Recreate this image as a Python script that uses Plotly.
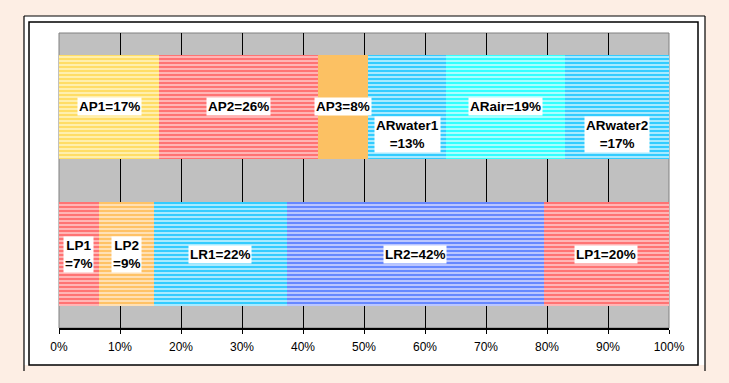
import plotly.graph_objects as go

# ---------------- data ----------------
rows = ["A", "L"]  # top bar, bottom bar
top_names = ["AP1", "AP2", "AP3", "ARwater1", "ARair", "ARwater2"]
top_values = [16.4, 26.0, 8.2, 12.9, 19.4, 17.1]
top_labels = ["AP1=17%", "AP2=26%", "AP3=8%", "ARwater1<br>=13%", "ARair=19%", "ARwater2<br>=17%"]

bottom_names = ["LP1", "LP2", "LR1", "LR2", "LP1 (2)"]
bottom_values = [6.5, 9.0, 21.8, 42.2, 20.5]
bottom_labels = ["LP1<br>=7%", "LP2<br>=9%", "LR1=22%", "LR2=42%", "LP1=20%"]

tick_values = [0, 10, 20, 30, 40, 50, 60, 70, 80, 90, 100]
tick_labels = ["0%", "10%", "20%", "30%", "40%", "50%", "60%", "70%", "80%", "90%", "100%"]

# ---------------- styles ----------------
palette = {
    "yellow": ("#ffdd66", "#fff1b5"),
    "red": ("#ff7373", "#ffbcbc"),
    "orange_solid": ("#fcc163", None),
    "sky": ("#33ccff", "#b5eeff"),
    "cyan": ("#33ffff", "#b5ffff"),
    "orange": ("#ffc266", "#ffe4bd"),
    "blue": ("#6688ff", "#c3cdff"),
}
top_styles = ["yellow", "red", "orange_solid", "sky", "cyan", "sky"]
bottom_styles = ["red", "orange", "sky", "blue", "red"]
top_yshift = [0, 0, 0, -28, 0, -28]
bottom_yshift = [0, 0, 0, 0, 0]

W, H = 729, 383
ML, MR, MT, MB = 59, 60, 33, 55
PW, PH = W - ML - MR, H - MT - MB
FONT = "Arial, 'Liberation Sans', sans-serif"


def px(x):
    return (x - ML) / PW


def py(y):
    return (H - MB - y) / PH


fig = go.Figure()
annotations = []


def add_row(row, names, values, labels, styles, yshifts):
    start = 0.0
    for name, val, lab, sty, ys in zip(names, values, labels, styles, yshifts):
        fg, bg = palette[sty]
        if bg is None:
            marker = dict(color=fg, line=dict(width=0))
        else:
            marker = dict(color=fg, line=dict(width=0),
                          pattern=dict(shape="-", fgcolor=fg, bgcolor=bg,
                                       size=4, solidity=0.55, fillmode="replace"))
        fig.add_trace(go.Bar(x=[val], y=[row], orientation="h", name=name,
                             marker=marker, hoverinfo="skip", showlegend=False))
        annotations.append(dict(x=start + val / 2, y=row, xref="x", yref="y",
                                text="<b>" + lab + "</b>", showarrow=False,
                                bgcolor="white", borderpad=1, yshift=ys,
                                font=dict(family=FONT, size=13.5, color="black")))
        start += val


add_row(rows[0], top_names, top_values, top_labels, top_styles, top_yshift)
add_row(rows[1], bottom_names, bottom_values, bottom_labels, bottom_styles, bottom_yshift)

shapes = [
    # white frame fill
    dict(type="rect", xref="paper", yref="paper", layer="below",
         x0=px(24), x1=px(705), y0=py(365), y1=py(16),
         fillcolor="white", line=dict(width=0)),
    # outer lines (top, left, right)
    dict(type="line", xref="paper", yref="paper", layer="below",
         x0=px(24), x1=px(705), y0=py(16), y1=py(16), line=dict(color="black", width=1.2)),
    dict(type="line", xref="paper", yref="paper", layer="below",
         x0=px(24), x1=px(24), y0=py(16), y1=py(371), line=dict(color="black", width=1.2)),
    dict(type="line", xref="paper", yref="paper", layer="below",
         x0=px(705), x1=px(705), y0=py(16), y1=py(371), line=dict(color="black", width=1.2)),
    # inner border
    dict(type="rect", xref="paper", yref="paper", layer="below",
         x0=px(29), x1=px(698), y0=py(365), y1=py(22),
         fillcolor="rgba(0,0,0,0)", line=dict(color="black", width=1.5)),
    # plot area background
    dict(type="rect", xref="paper", yref="paper", layer="below",
         x0=0, x1=1, y0=0, y1=1,
         fillcolor="#c0c0c0", line=dict(color="#808080", width=1)),
]

fig.update_layout(
    width=W, height=H,
    margin=dict(l=ML, r=MR, t=MT, b=MB, pad=0),
    paper_bgcolor="#fdeee4",
    plot_bgcolor="rgba(0,0,0,0)",
    barmode="stack",
    bargap=0.295,
    showlegend=False,
    shapes=shapes,
    annotations=annotations,
    font=dict(family=FONT, size=12, color="black"),
    xaxis=dict(range=[0, 100], tickvals=tick_values, ticktext=tick_labels,
               showgrid=True, gridcolor="black", gridwidth=1,
               showline=True, linecolor="black", linewidth=1.5,
               ticks="outside", ticklen=4, tickcolor="black", tickwidth=1,
               ticklabelstandoff=3, zeroline=False, fixedrange=True,
               tickfont=dict(family=FONT, size=12, color="black")),
    yaxis=dict(type="category", categoryorder="array", categoryarray=[rows[1], rows[0]],
               showticklabels=False, showgrid=False, zeroline=False, showline=False,
               ticks="", fixedrange=True),
)

fig.write_html("out.html", config={"displayModeBar": False},
               post_script="document.body.style.margin='0px';document.body.style.background='#fdeee4';")
